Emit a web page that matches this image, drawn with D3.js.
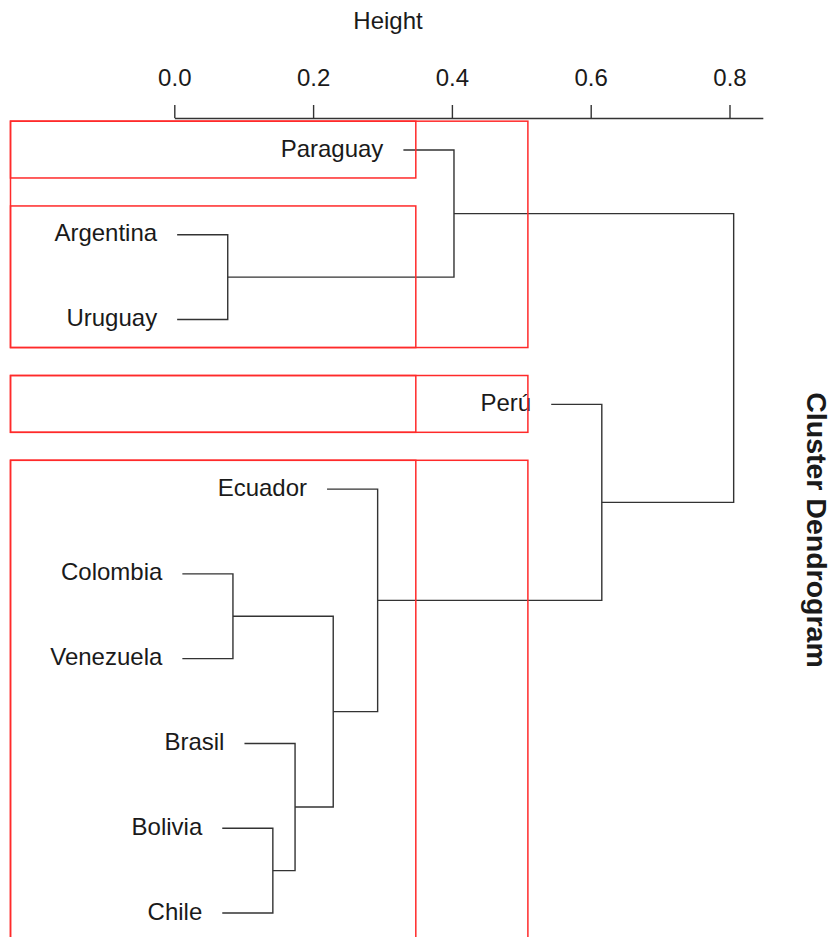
<!DOCTYPE html>
<html>
<head>
<meta charset="utf-8"/>
<title>Cluster Dendrogram</title>
<script src="https://cdn.jsdelivr.net/npm/d3@7"></script>
<style>
	body { margin: 0; background: #fff; }
	svg { display: block; }
	text { font-family: "Liberation Sans", Arial, sans-serif; fill: #1a1a1a; }
	.branch { fill: none; stroke: #333; stroke-width: 1.4; }
	.cluster-box { fill: none; stroke: #ff2a2a; stroke-width: 1.5; }
	.axis path, .axis line { stroke: #333; stroke-width: 1.4; }
</style>
</head>
<body>
<script>

//Leaves in the order they are drawn (top to bottom)
var labels = ["Paraguay", "Argentina", "Uruguay", "Perú", "Ecuador",
              "Colombia", "Venezuela", "Brasil", "Bolivia", "Chile"];

//Merge steps, hclust style: negative = leaf number, positive = earlier step
var mergeLeft  = [-2, -6, -9, -8, 2, -5, -1, -4, 7];
var mergeRight = [-3, -7, -10, 3, 4, 5, 1, 6, 8];
var heights    = [0.077, 0.0845, 0.142, 0.174, 0.229, 0.293, 0.403, 0.616, 0.806];

var tickValues = [0, 0.2, 0.4, 0.6, 0.8];
var clusterCounts = [3, 4];     //rect.hclust(k = 3) and (k = 4)

var w = 837, h = 937;

var svg = d3.select("body").append("svg")
	.attr("width", w)
	.attr("height", h);

//Height axis runs left to right
var x = d3.scaleLinear()
	.domain([0, 0.848])
	.range([174.3, 174.3 + 0.848 * 694]);

//Leaf positions 1..n run top to bottom
var y = d3.scaleLinear()
	.domain([1, labels.length])
	.range([150, 913]);

//Build the tree from the merge steps
function buildNode(id) {
	if (id < 0) return { name: labels[-id - 1] };
	return {
		height: heights[id - 1],
		children: [buildNode(mergeLeft[id - 1]), buildNode(mergeRight[id - 1])]
	};
}

var root = d3.hierarchy(buildNode(heights.length));

//cluster layout: leaves one unit apart, parents at the mean of their children
d3.cluster().nodeSize([1, 1]).separation(function() { return 1; })(root);
var x0 = root.leaves()[0].x;
root.each(function(d) { d.pos = d.x - x0 + 1; });

//Labels hang below their merge by 10% of the height range
var hang = 0.1 * (d3.max(heights) - d3.min(heights));
function topOf(d) {
	return d.children ? d.data.height : d.parent.data.height - hang;
}

//Branches
root.descendants().filter(function(d) { return d.children; }).forEach(function(d) {
	var a = d.children[0], b = d.children[1];
	var px = x(d.data.height);
	svg.append("path")
		.attr("class", "branch")
		.attr("d", "M" + x(topOf(a)) + "," + y(a.pos) +
		           "H" + px + "V" + y(b.pos) + "H" + x(topOf(b)));
});

//Leaf labels
svg.selectAll("text.leaf")
	.data(root.leaves())
	.enter()
	.append("text")
	.attr("class", "leaf")
	.attr("x", function(d) { return x(topOf(d)) - 20; })
	.attr("y", function(d) { return y(d.pos) + 6.5; })
	.attr("text-anchor", "end")
	.style("font-size", "24px")
	.text(function(d) { return d.data.name; });

//Cluster boxes
var sorted = heights.slice().sort(d3.descending);
clusterCounts.forEach(function(k) {
	var cut = (sorted[k - 2] + sorted[k - 1]) / 2;
	var groups = [root];
	while (groups.length < k) {
		var i = d3.maxIndex(groups, function(g) { return g.children ? g.data.height : -1; });
		groups.splice.apply(groups, [i, 1].concat(groups[i].children));
	}
	groups.forEach(function(g) {
		var lv = g.leaves();
		var y1 = y(lv[0].pos - 0.34), y2 = y(lv[lv.length - 1].pos + 0.33);
		svg.append("rect")
			.attr("class", "cluster-box")
			.attr("x", 10.5)
			.attr("y", y1)
			.attr("width", x(cut) - 10.5)
			.attr("height", y2 - y1);
	});
});

//Height axis on top
var axis = svg.append("g")
	.attr("class", "axis")
	.attr("transform", "translate(0,118)")
	.call(d3.axisTop(x)
		.tickValues(tickValues)
		.tickFormat(d3.format(".1f"))
		.tickSize(13)
		.tickSizeOuter(0)
		.tickPadding(19));
axis.selectAll("text")
	.style("font-size", "24px")
	.style("font-family", "'Liberation Sans', Arial, sans-serif")
	.attr("fill", "#1a1a1a");

svg.append("text")
	.attr("x", 388)
	.attr("y", 29)
	.attr("text-anchor", "middle")
	.style("font-size", "24px")
	.text("Height");

//Main title, turned to read downwards
svg.append("text")
	.attr("transform", "translate(807,530) rotate(90)")
	.attr("text-anchor", "middle")
	.style("font-size", "28.5px")
	.style("font-weight", "bold")
	.text("Cluster Dendrogram");

</script>
</body>
</html>
